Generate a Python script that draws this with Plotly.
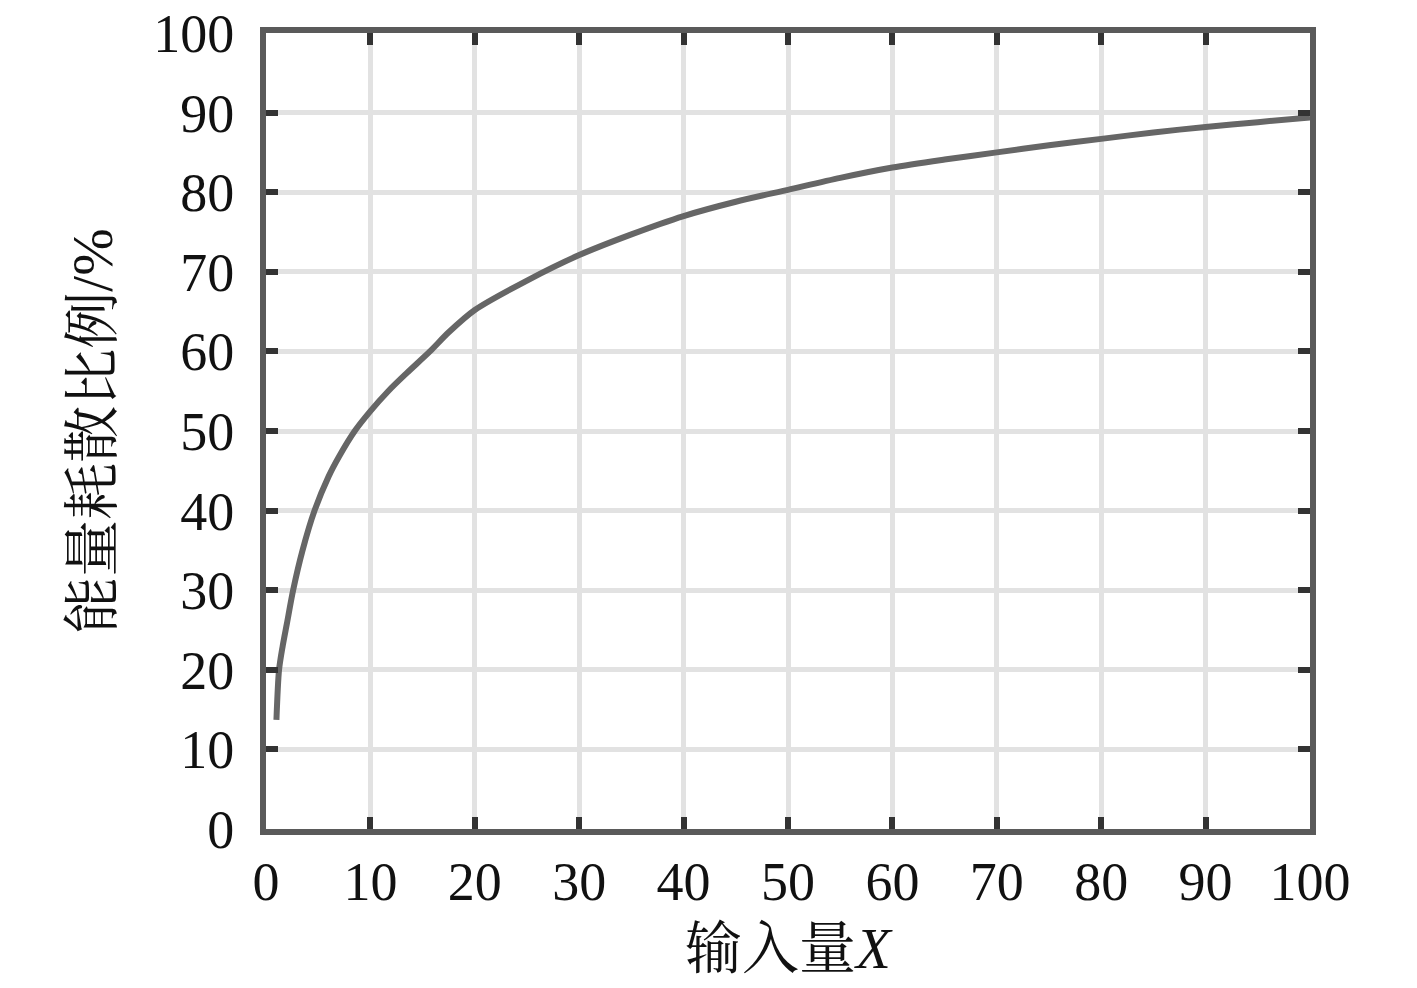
import plotly.graph_objects as go

x_vals = [1, 1.25, 1.6, 2, 2.6, 3.5, 4.65, 6, 7, 8.5, 10, 11.7, 13.5, 15.7, 17.5, 20, 25, 30, 35, 40, 45, 50, 55, 60, 65, 70, 75, 80, 85, 90, 95, 100]
y_vals = [13.7, 20, 23, 25.8, 30, 35, 40, 44.3, 46.8, 50, 52.5, 55, 57.3, 60, 62.4, 65.2, 68.9, 72.1, 74.7, 77.0, 78.8, 80.3, 81.8, 83.1, 84.1, 85.0, 85.9, 86.7, 87.5, 88.2, 88.8, 89.4]
tick_vals = [0, 10, 20, 30, 40, 50, 60, 70, 80, 90, 100]

x_title = "输入量<i>X</i>"
y_title = "能量耗散比例/%"

FONT = "'Liberation Serif', 'Noto Serif CJK SC', 'Noto Sans CJK SC', serif"

fig = go.Figure()
fig.add_trace(go.Scatter(x=x_vals, y=y_vals, mode="lines",
                         line=dict(color="#666666", width=6, shape="spline", smoothing=0.8),
                         showlegend=False))

axis_common = dict(
    range=[0, 100], tickvals=tick_vals, ticks="inside", ticklen=12, tickwidth=6,
    tickcolor="#333333", showline=True, linecolor="#5a5a5a", linewidth=6,
    mirror="allticks", showgrid=True, gridcolor="#e2e2e2", gridwidth=5,
    zeroline=False, automargin=False, ticklabeloverflow="allow",
    tickfont=dict(family=FONT, size=54, color="#111111"),
)

fig.update_xaxes(**axis_common, ticklabelstandoff=0,
                 title=dict(text=x_title, font=dict(family=FONT, size=57, color="#111111"), standoff=22))
fig.update_yaxes(**axis_common, ticklabelstandoff=15)

fig.add_annotation(text=y_title, xref="paper", yref="paper", x=-0.167, y=0.5,
                   xanchor="center", yanchor="middle", textangle=-90, showarrow=False,
                   font=dict(family=FONT, size=57, color="#111111"))

fig.update_layout(
    width=1401, height=972,
    margin=dict(l=258, r=99, t=25, b=151, autoexpand=False),
    paper_bgcolor="white", plot_bgcolor="white",
)

fig.write_html("out.html")
